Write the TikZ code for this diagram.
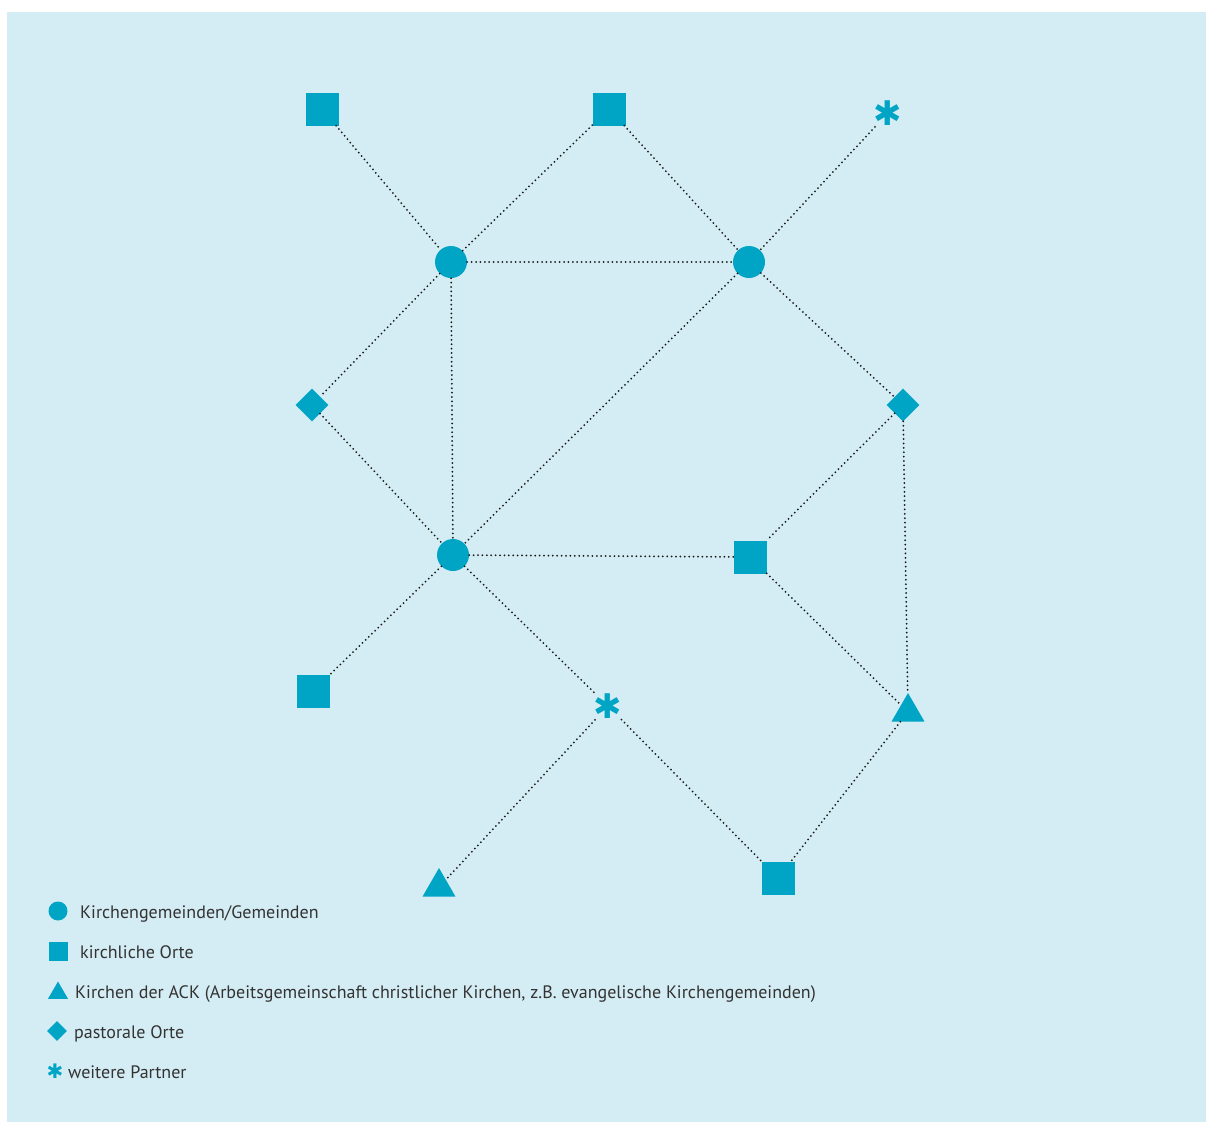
\documentclass[tikz,border=0pt]{standalone}
\usepackage{fontspec}
\setmainfont{PT Sans}
\newfontfamily\symfont{DejaVu Sans}
\usetikzlibrary{shapes.geometric}
\definecolor{hint}{HTML}{D4ECF3}
\definecolor{petrol}{HTML}{00A5C5}
\definecolor{schrift}{HTML}{333333}
\tikzset{
  gemeinde/.style={circle, fill=petrol, inner sep=0pt, minimum size=#1},
  gemeinde/.default=32pt,
  ort/.style={rectangle, fill=petrol, inner sep=0pt, minimum size=#1},
  ort/.default=33pt,
  ack/.style={regular polygon, regular polygon sides=3, fill=petrol, inner sep=0pt, minimum size=#1},
  ack/.default=38pt,
  pastoral/.style={diamond, fill=petrol, inner sep=0pt, minimum width=#1, minimum height=#1},
  pastoral/.default=33pt,
  partner/.style={circle, inner sep=0pt, text=petrol, font=\symfont\fontsize{#1}{#1}\selectfont},
  partner/.default=34pt,
  verbindung/.style={draw=black!90, line width=2pt, dash pattern=on 0pt off 4.4pt, line cap=round},
  legende/.style={anchor=base west, inner sep=0pt, text=schrift, font=\fontsize{18}{20}\selectfont}
}
\begin{document}
\begin{tikzpicture}[x=1pt, y=-1pt]
\useasboundingbox (0,0) rectangle (1206,1122);
\fill[hint] (7,12) rectangle (1206,1122);

% Knoten
\node[ort] (o1) at (322,109) {};
\node[ort] (o2) at (609,109) {};
\node[partner] (p1) at (888,113) {✱};
\node[gemeinde] (g1) at (451,262) {};
\node[gemeinde] (g2) at (749,262) {};
\node[pastoral] (po1) at (312,405) {};
\node[pastoral] (po2) at (903,405) {};
\node[gemeinde] (g3) at (453,555) {};
\node[ort] (o3) at (750,557) {};
\node[ort] (o4) at (313,691) {};
\node[partner] (p2) at (608,706) {✱};
\node[ack] (a1) at (908,712) {};
\node[ack] (a2) at (439,887) {};
\node[ort] (o5) at (778,878) {};

% Verbindungen
\draw[verbindung] (o1) -- (g1);
\draw[verbindung] (o2) -- (g1);
\draw[verbindung] (o2) -- (g2);
\draw[verbindung] (p1) -- (g2);
\draw[verbindung] (g1) -- (g2);
\draw[verbindung] (g1) -- (po1);
\draw[verbindung] (g1) -- (g3);
\draw[verbindung] (g2) -- (g3);
\draw[verbindung] (g2) -- (po2);
\draw[verbindung] (po1) -- (g3);
\draw[verbindung] (po2) -- (o3);
\draw[verbindung] (po2) -- (a1);
\draw[verbindung] (g3) -- (o3);
\draw[verbindung] (g3) -- (o4);
\draw[verbindung] (g3) -- (p2);
\draw[verbindung] (p2) -- (a2);
\draw[verbindung] (p2) -- (o5);
\draw[verbindung] (o3) -- (a1);
\draw[verbindung] (a1) -- (o5);

% Legende
\node[gemeinde=19pt] (lg) at (58,911) {};
\node[ort=19pt] (lo) at (58,951) {};
\node[ack=23pt] (la) at (58,993) {};
\node[pastoral=20pt] (lp) at (57,1031) {};
\node[partner=20pt] (lw) at (55,1071) {✱};
\node[legende] (tg) at (80,918) {Kirchengemeinden/Gemeinden};
\node[legende] (to) at (80,958) {kirchliche Orte};
\node[legende] (ta) at (75,998) {Kirchen der ACK (Arbeitsgemeinschaft christlicher Kirchen, z.B. evangelische Kirchengemeinden)};
\node[legende] (tp) at (74,1038) {pastorale Orte};
\node[legende] (tw) at (68,1078) {weitere Partner};
\end{tikzpicture}
\end{document}
